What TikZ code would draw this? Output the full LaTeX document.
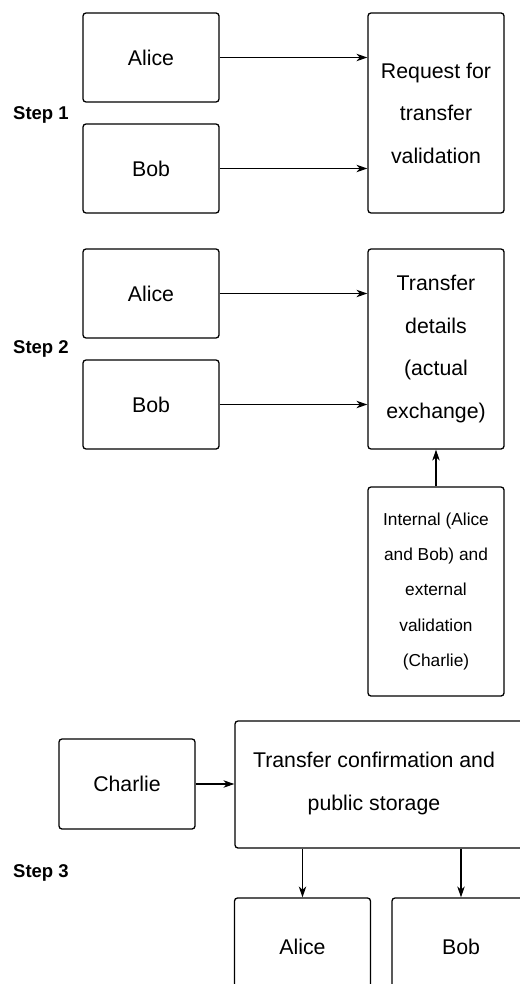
\documentclass[tikz,border=0pt]{standalone}
\usepackage{fontspec}
\setmainfont{Liberation Sans}
\usetikzlibrary{arrows.meta}
\begin{document}
\begin{tikzpicture}[x=1pt,y=-1pt,
  box/.style={draw, line width=1.3pt, rounded corners=3pt, minimum width=136pt, inner sep=0pt, align=center, font=\fontsize{21.3}{42.5}\selectfont},
  smallbox/.style={box, font=\fontsize{17.3}{35.3}\selectfont},
  txt/.style={inner sep=0pt, align=center, font=\fontsize{21.3}{43}\selectfont},
  arr/.style={-{Stealth[length=11pt,width=7.5pt,inset=3.5pt]}, line width=1.1pt},
  steplbl/.style={anchor=west, font=\fontsize{18.5}{22}\selectfont\bfseries, inner sep=0pt}]
\useasboundingbox (0,0) rectangle (519,984);
% Step 1
\node[box, minimum height=89pt] (a1) at (151,57.5) {Alice};
\node[box, minimum height=89pt] (b1) at (151,168.5) {Bob};
\node[box, minimum height=200pt] (req) at (436,113) {Request for\\transfer\\validation};
\node[steplbl] (s1) at (13,115) {Step 1};
\draw[arr] (a1.east) -- (a1.east -| req.west);
\draw[arr] (b1.east) -- (b1.east -| req.west);
% Step 2
\node[box, minimum height=89pt] (a2) at (151,293.5) {Alice};
\node[box, minimum height=89pt] (b2) at (151,404.5) {Bob};
\node[box, minimum height=200pt] (det) at (436,349) {Transfer\\details\\(actual\\exchange)};
\node[steplbl] (s2) at (13,349) {Step 2};
\draw[arr] (a2.east) -- (a2.east -| det.west);
\draw[arr] (b2.east) -- (b2.east -| det.west);
\node[smallbox, minimum height=209pt] (int) at (436,591.5) {Internal (Alice\\and Bob) and\\external\\validation\\(Charlie)};
\draw[arr] (int.north) -- (det.south);
% Step 3
\node[box, minimum height=90pt] (ch) at (127,784) {Charlie};
\node[box, minimum width=295pt, minimum height=127pt] (conf) at (382.5,784.5) {};
\node[txt] (conftxt) at (374,783.5) {Transfer confirmation and\\public storage};
\node[steplbl] (s3) at (13,873) {Step 3};
\node[box, minimum height=98pt] (a3) at (302.5,947) {Alice};
\node[box, minimum width=138pt, minimum height=98pt] (b3) at (461,947) {Bob};
\draw[arr] (ch.east) -- (ch.east -| conf.west);
\draw[arr] (conf.south -| a3.north) -- (a3.north);
\draw[arr] (conf.south -| b3.north) -- (b3.north);
\end{tikzpicture}
\end{document}
